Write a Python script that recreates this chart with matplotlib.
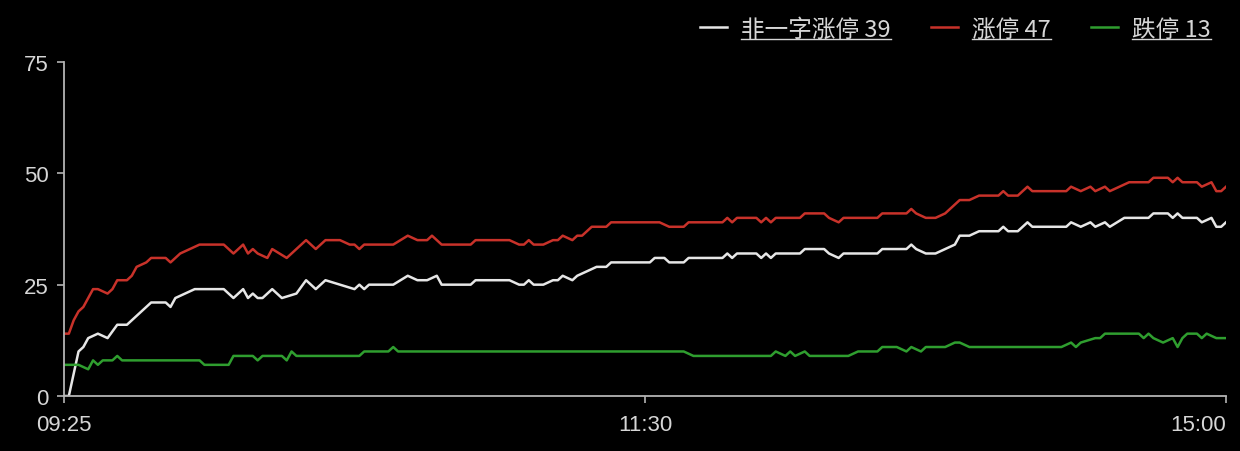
import matplotlib.pyplot as plt
from matplotlib.lines import Line2D

# minute index across the session, 0 = 09:25, 240 = 15:00
tick_pos = [0, 120, 240]
tick_labels = ["09:25", "11:30", "15:00"]

red_t = [0, 1, 2, 3, 4, 5, 6, 7, 9, 10, 11, 13, 14, 15, 17, 18, 21, 22, 23, 24, 26, 28, 33, 35, 36, 37, 38, 39, 40,
         42, 43, 46, 48, 50, 52, 54, 57, 59, 60, 61, 62, 68, 71, 73, 75, 76, 78, 84, 85, 92, 94, 95, 96, 97, 99,
         101, 102, 103, 105, 106, 107, 109, 112, 113, 123, 125, 128, 129, 136, 137, 138, 139, 143, 144, 145, 146,
         147, 152, 153, 157, 158, 160, 161, 168, 169, 174, 175, 176, 178, 180, 182, 184, 185, 187, 189, 193, 194,
         195, 197, 199, 200, 207, 208, 210, 212, 213, 215, 216, 220, 224, 225, 228, 229, 230, 231, 234, 235, 237,
         238, 239, 240]
red_v = [14, 14, 17, 19, 20, 22, 24, 24, 23, 24, 26, 26, 27, 29, 30, 31, 31, 30, 31, 32, 33, 34, 34, 32, 33, 34, 32, 33, 32,
         31, 33, 31, 33, 35, 33, 35, 35, 34, 34, 33, 34, 34, 36, 35, 35, 36, 34, 34, 35, 35, 34, 34, 35, 34, 34,
         35, 35, 36, 35, 36, 36, 38, 38, 39, 39, 38, 38, 39, 39, 40, 39, 40, 40, 39, 40, 39,
         40, 40, 41, 41, 40, 39, 40, 40, 41, 41, 42, 41, 40, 40, 41, 43, 44, 44, 45, 45, 46,
         45, 45, 47, 46, 46, 47, 46, 47, 46, 47, 46, 48, 48, 49, 49, 48, 49, 48, 48, 47, 48,
         46, 46, 47]

white_t = [0, 1, 3, 4, 5, 7, 9, 11, 13, 15, 18, 21, 22, 23, 25, 27, 33, 35, 37, 38, 39, 40, 41, 43, 45, 48, 50, 52,
           54, 57, 60, 61, 62, 63, 68, 71, 73, 75, 77, 78, 84, 85, 92, 94, 95, 96, 97, 99, 101, 102, 103, 105, 106,
           108, 110, 112, 113, 121, 122, 124, 125, 128, 129, 136, 137, 138, 139, 143, 144, 145, 146, 147, 152, 153,
           157, 158, 160, 161, 168, 169, 174, 175, 176, 178, 180, 182, 184, 185, 187, 189, 193, 194, 195, 197, 199,
           200, 207, 208, 210, 212, 213, 215, 216, 219, 224, 225, 228, 229, 230, 231, 234, 235, 237, 238, 239, 240]
white_v = [0, 0, 10, 11, 13, 14, 13, 16, 16, 18, 21, 21, 20, 22, 23, 24, 24, 22, 24, 22, 23, 22, 22, 24, 22, 23, 26, 24,
           26, 25, 24, 25, 24, 25, 25, 27, 26, 26, 27, 25, 25, 26, 26, 25, 25, 26, 25, 25, 26, 26, 27, 26, 27,
           28, 29, 29, 30, 30, 31, 31, 30, 30, 31, 31, 32, 31, 32, 32, 31, 32, 31, 32, 32, 33,
           33, 32, 31, 32, 32, 33, 33, 34, 33, 32, 32, 33, 34, 36, 36, 37, 37, 38, 37, 37, 39,
           38, 38, 39, 38, 39, 38, 39, 38, 40, 40, 41, 41, 40, 41, 40, 40, 39, 40, 38, 38, 39]

green_t = [0, 3, 5, 6, 7, 8, 10, 11, 12, 28, 29, 34, 35, 39, 40, 41, 45, 46, 47, 48, 61, 62, 67, 68, 69, 123, 128,
           130, 146, 147, 149, 150, 151, 153, 154, 162, 164, 168, 169, 172, 174, 175, 177, 178, 182, 184, 185, 187,
           206, 208, 209, 210, 213, 214, 215, 222, 223, 224, 225, 227, 229, 230, 231, 232, 234, 235, 236, 238, 240]
green_v = [7, 7, 6, 8, 7, 8, 8, 9, 8, 8, 7, 7, 9, 9, 8, 9, 9, 8, 10, 9, 9, 10, 10, 11, 10, 10, 10,
           9, 9, 10, 9, 10, 9, 10, 9, 9, 10, 10, 11, 11, 10, 11, 10, 11, 11, 12, 12, 11,
           11, 12, 11, 12, 13, 13, 14, 14, 13, 14, 13, 12, 13, 11, 13, 14, 14, 13, 14, 13, 13]

labels = ["非一字涨停 39", "涨停 47", "跌停 13"]
colors = ["#e6e6e6", "#c8322a", "#2f9e2f"]

fig = plt.figure(figsize=(12.4, 4.52), dpi=100, facecolor="black")
ax = fig.add_axes([64 / 1240, 55 / 452, (1226 - 64) / 1240, (397 - 63) / 452])
ax.set_facecolor("black")

ax.plot(white_t, white_v, color=colors[0], lw=1.8, label=labels[0])
ax.plot(red_t, red_v, color=colors[1], lw=1.8, label=labels[1])
ax.plot(green_t, green_v, color=colors[2], lw=1.8, label=labels[2])

ax.set_xlim(0, 240)
ax.set_ylim(0, 75)
ax.set_xticks(tick_pos)
ax.set_xticklabels(tick_labels)
ax.set_yticks([0, 25, 50, 75])

for s in ["top", "right"]:
    ax.spines[s].set_visible(False)
for s in ["left", "bottom"]:
    ax.spines[s].set_color("#b4b4b4")
    ax.spines[s].set_linewidth(1.3)

ax.tick_params(axis="both", colors="#b4b4b4", labelcolor="#d6d6d6", length=5, width=1.2,
               labelsize=16)
ax.tick_params(axis="x", pad=8)
ax.tick_params(axis="y", pad=6)
for t in ax.get_xticklabels() + ax.get_yticklabels():
    t.set_fontfamily(["Liberation Sans", "DejaVu Sans"])
# last time label sits left of its tick, inside the figure
ax.get_xticklabels()[-1].set_horizontalalignment("right")

leg = ax.legend(loc="center right", bbox_to_anchor=(1211 / 1240, 422 / 452),
                bbox_transform=fig.transFigure, ncol=3, frameon=False,
                borderpad=0, borderaxespad=0, handlelength=1.15, handletextpad=0.6,
                columnspacing=1.7,
                prop={"family": ["Noto Sans CJK SC", "DejaVu Sans"], "size": 17})
for t in leg.get_texts():
    t.set_color("#d6d6d6")

# underline the legend labels
fig.canvas.draw()
r = fig.canvas.get_renderer()
inv = fig.transFigure.inverted()
for t in leg.get_texts():
    bb = t.get_window_extent(r)
    (x0, y0), (x1, _) = inv.transform([(bb.x0, bb.y0 + 2), (bb.x1, bb.y0 + 2)])
    fig.add_artist(Line2D([x0, x1], [y0, y0], transform=fig.transFigure,
                          color="#d6d6d6", lw=1.0))

fig.savefig("out.png", dpi=100, facecolor="black")
